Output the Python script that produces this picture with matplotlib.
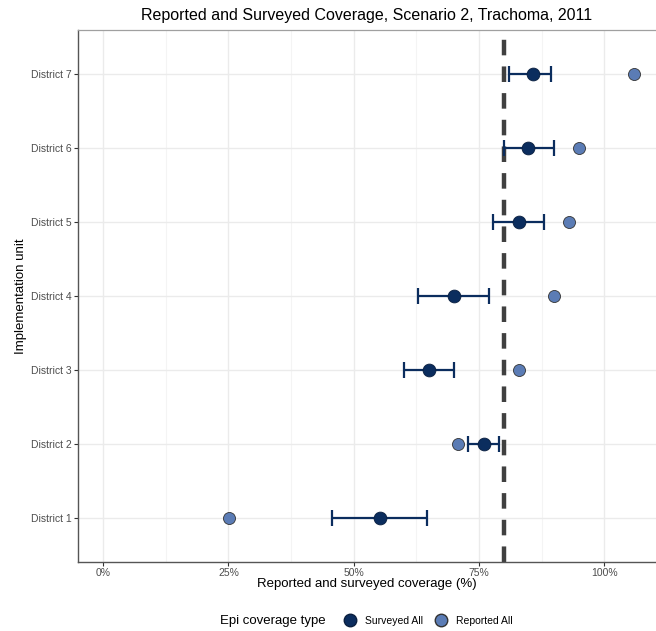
import matplotlib
matplotlib.use("Agg")
import matplotlib.pyplot as plt
from matplotlib.ticker import FuncFormatter, MultipleLocator
from matplotlib.lines import Line2D

plt.rcParams['font.family'] = ['Liberation Sans', 'DejaVu Sans']

# data (percent)
districts = ["District 1", "District 2", "District 3", "District 4",
             "District 5", "District 6", "District 7"]
surveyed = [55.3, 76.0, 65.0, 70.0, 83.0, 84.8, 85.8]
surveyed_lo = [45.7, 72.8, 60.0, 62.9, 77.8, 80.0, 81.0]
surveyed_hi = [64.7, 79.0, 70.0, 77.0, 88.0, 90.0, 89.4]
reported = [25.1, 70.7, 83.0, 90.0, 93.0, 95.0, 106.0]
target = 80

navy = "#0b2d5e"
light = "#5b7cb5"

fig = plt.figure(figsize=(6.56, 6.31), dpi=100)
ax = fig.add_axes([0.119, 0.1094, 0.881, 0.8431])

ypos = list(range(1, len(districts) + 1))
xerr = [[s - l for s, l in zip(surveyed, surveyed_lo)],
        [h - s for s, h in zip(surveyed, surveyed_hi)]]

ax.axvline(target, color="#404040", lw=3.2, ls=(0, (3.5, 2.5)), zorder=2)
ax.errorbar(surveyed, ypos, xerr=xerr, fmt="none", ecolor=navy,
            elinewidth=1.6, capsize=6, capthick=1.6, zorder=3)
ax.scatter(reported, ypos, s=75, color=light, edgecolor="#333333",
           linewidth=0.6, zorder=4)
ax.scatter(surveyed, ypos, s=85, color=navy, edgecolor="#0a1f3f",
           linewidth=0.6, zorder=5)

ax.set_xlim(-5, 110.3)
ax.set_ylim(0.4, 7.6)
ax.set_yticks(ypos)
ax.set_yticklabels(districts)
ax.xaxis.set_major_locator(MultipleLocator(25))
ax.xaxis.set_minor_locator(MultipleLocator(12.5))
ax.xaxis.set_major_formatter(FuncFormatter(lambda v, p: "%d%%" % v))

ax.grid(which="major", color="#ebebeb", lw=1.0, zorder=0)
ax.grid(which="minor", axis="x", color="#f4f4f4", lw=0.8, zorder=0)
ax.set_axisbelow(True)

for s in ["left", "bottom"]:
    ax.spines[s].set_color("#555555")
    ax.spines[s].set_linewidth(1.0)
ax.spines["top"].set_color("#a0a0a0")
ax.spines["top"].set_linewidth(0.9)
ax.spines["right"].set_visible(False)

ax.tick_params(which="major", length=3, color="#333333", labelsize=7.5,
               labelcolor="#4d4d4d", pad=1.5)
ax.tick_params(which="minor", length=0)

ax.set_xlabel("Reported and surveyed coverage (%)", fontsize=9.5, labelpad=0)
ax.set_ylabel("Implementation unit", fontsize=9.5, labelpad=3)
ax.set_title("Reported and Surveyed Coverage, Scenario 2, Trachoma, 2011",
             fontsize=11.5, pad=7)

handles = [Line2D([], [], marker="o", ls="none", markersize=9,
                  markerfacecolor=navy, markeredgecolor="#0a1f3f"),
           Line2D([], [], marker="o", ls="none", markersize=9,
                  markerfacecolor=light, markeredgecolor="#333333")]
leg = fig.legend(handles, ["Surveyed All", "Reported All"], loc="center left",
                 bbox_to_anchor=(345 / 656, 0.016), ncol=2, frameon=False,
                 fontsize=7.5, handletextpad=0.9, columnspacing=1.25,
                 handlelength=1.0, borderpad=0, borderaxespad=0)
fig.text(220 / 656, 0.016, "Epi coverage type", fontsize=9.5, ha="left",
         va="center")

fig.savefig("out.png", dpi=100)
